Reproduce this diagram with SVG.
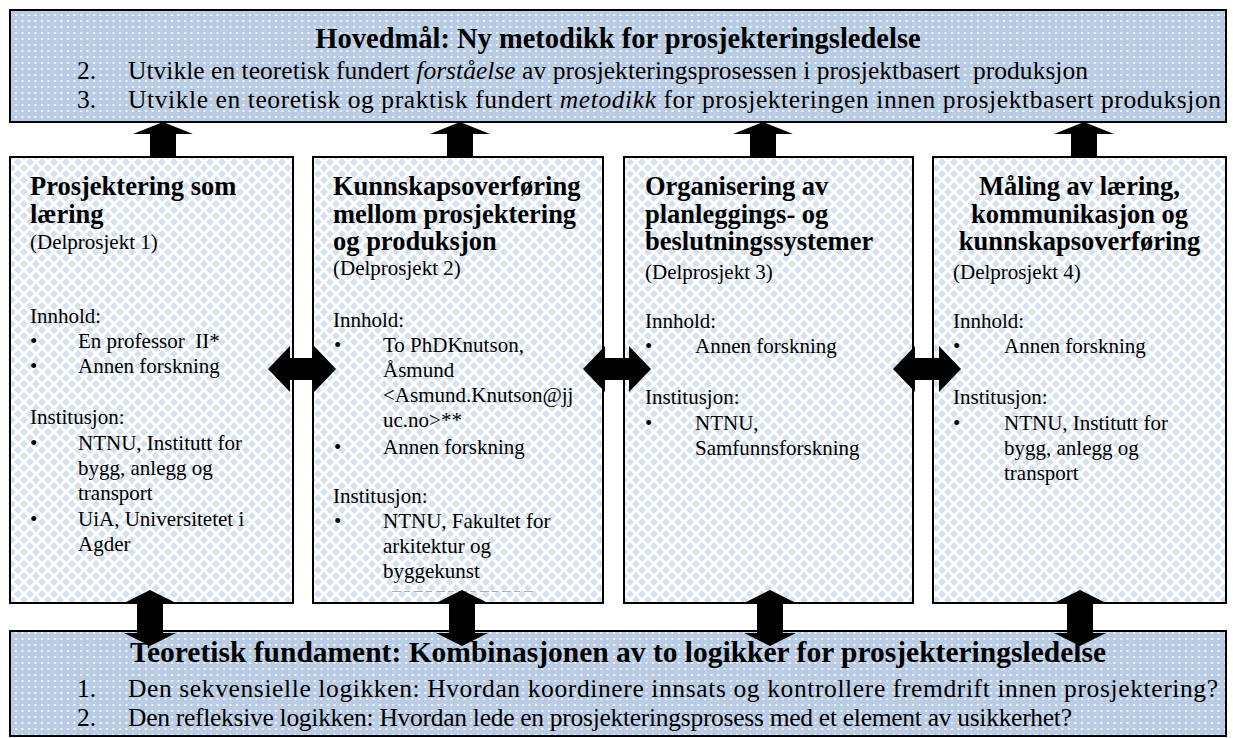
<svg xmlns="http://www.w3.org/2000/svg" width="1233" height="738" viewBox="0 0 1233 738">
  <defs>
    <!-- blue band fill with small white dots -->
    <pattern id="dots" width="6.5" height="6" patternUnits="userSpaceOnUse">
      <rect width="6.5" height="6" fill="#b9cce4"/>
      <rect x="2" y="2" width="2" height="2" fill="#f2f6fb"/>
    </pattern>
    <!-- white fill with pale blue diamond lattice -->
    <pattern id="diamonds" width="12" height="12" patternUnits="userSpaceOnUse">
      <rect width="12" height="12" fill="#ffffff"/>
      <path d="M6 2.1 L9.9 6 L6 9.9 L2.1 6Z M0 -3.9 L3.9 0 L0 3.9 L-3.9 0Z M12 -3.9 L15.9 0 L12 3.9 L8.1 0Z M0 8.1 L3.9 12 L0 15.9 L-3.9 12Z M12 8.1 L15.9 12 L12 15.9 L8.1 12Z" fill="#d5e0ef"/>
    </pattern>
  </defs>
  <style>
    .band { fill: url(#dots); stroke: #000; stroke-width: 2; }
    .card { fill: url(#diamonds); stroke: #000; stroke-width: 2; }
    text { font-family: "Liberation Serif", "Times New Roman", serif; fill: #000; }
    .h1 { font-size: 28.5px; font-weight: bold; }
    .h1b { font-size: 29.5px; font-weight: bold; }
    .li { font-size: 25.5px; }
    .h2 { font-size: 26.5px; font-weight: bold; }
    .t { font-size: 21px; }
    .arrow { fill: #000; }
  </style>

  <!-- main goal band -->
  <g id="hovedmal">
    <rect class="band" x="10" y="10" width="1216" height="112"/>
    <text class="h1" x="618" y="48" text-anchor="middle">Hovedmål: Ny metodikk for prosjekteringsledelse</text>
    <text class="li" x="77" y="79">2.</text>
    <text class="li" x="128" y="79" textLength="960" lengthAdjust="spacing" xml:space="preserve">Utvikle en teoretisk fundert <tspan font-style="italic">forståelse</tspan> av prosjekteringsprosessen i prosjektbasert  produksjon</text>
    <text class="li" x="77" y="108">3.</text>
    <text class="li" x="128" y="108" textLength="1093" lengthAdjust="spacing">Utvikle en teoretisk og praktisk fundert <tspan font-style="italic">metodikk</tspan> for prosjekteringen innen prosjektbasert produksjon</text>
  </g>

  <!-- sub-project 1 -->
  <g id="delprosjekt1">
    <rect class="card" x="10" y="157" width="283" height="446"/>
    <text class="h2" x="30" y="195">Prosjektering som</text>
    <text class="h2" x="30" y="223">læring</text>
    <text class="t" x="30" y="249">(Delprosjekt 1)</text>
    <text class="t" x="30" y="323">Innhold:</text>
    <text class="t" x="30" y="348">•</text>
    <text class="t" x="78" y="348" xml:space="preserve">En professor  II*</text>
    <text class="t" x="30" y="373">•</text>
    <text class="t" x="78" y="373">Annen forskning</text>
    <text class="t" x="30" y="424">Institusjon:</text>
    <text class="t" x="30" y="450">•</text>
    <text class="t" x="78" y="450">NTNU, Institutt for</text>
    <text class="t" x="78" y="475">bygg, anlegg og</text>
    <text class="t" x="78" y="500">transport</text>
    <text class="t" x="30" y="526">•</text>
    <text class="t" x="78" y="526">UiA, Universitetet i</text>
    <text class="t" x="78" y="551">Agder</text>
  </g>

  <!-- sub-project 2 -->
  <g id="delprosjekt2">
    <rect class="card" x="313" y="157" width="290" height="446"/>
    <text class="h2" x="333" y="195">Kunnskapsoverføring</text>
    <text class="h2" x="333" y="223">mellom prosjektering</text>
    <text class="h2" x="333" y="250">og produksjon</text>
    <text class="t" x="333" y="275">(Delprosjekt 2)</text>
    <text class="t" x="333" y="327">Innhold:</text>
    <text class="t" x="334" y="352">•</text>
    <text class="t" x="383" y="352">To PhDKnutson,</text>
    <text class="t" x="383" y="377">Åsmund</text>
    <text class="t" x="383" y="402">&lt;Asmund.Knutson@jj</text>
    <text class="t" x="383" y="427">uc.no&gt;**</text>
    <text class="t" x="334" y="454">•</text>
    <text class="t" x="383" y="454">Annen forskning</text>
    <text class="t" x="333" y="503">Institusjon:</text>
    <text class="t" x="334" y="528">•</text>
    <text class="t" x="383" y="528">NTNU, Fakultet for</text>
    <text class="t" x="383" y="553">arkitektur og</text>
    <text class="t" x="383" y="578">byggekunst</text>
    <path d="M392 591.5 H533" stroke="#b0b0b0" stroke-width="1.2" stroke-dasharray="9 3 6 4"/>
  </g>

  <!-- sub-project 3 -->
  <g id="delprosjekt3">
    <rect class="card" x="624" y="157" width="289" height="446"/>
    <text class="h2" x="645" y="195">Organisering av</text>
    <text class="h2" x="645" y="223">planleggings- og</text>
    <text class="h2" x="645" y="250">beslutningssystemer</text>
    <text class="t" x="645" y="279">(Delprosjekt 3)</text>
    <text class="t" x="645" y="328">Innhold:</text>
    <text class="t" x="645" y="353">•</text>
    <text class="t" x="695" y="353">Annen forskning</text>
    <text class="t" x="645" y="404">Institusjon:</text>
    <text class="t" x="645" y="430">•</text>
    <text class="t" x="695" y="430">NTNU,</text>
    <text class="t" x="695" y="455">Samfunnsforskning</text>
  </g>

  <!-- sub-project 4 -->
  <g id="delprosjekt4">
    <rect class="card" x="933" y="157" width="293" height="446"/>
    <text class="h2" x="1079.5" y="195" text-anchor="middle">Måling av læring,</text>
    <text class="h2" x="1079.5" y="223" text-anchor="middle">kommunikasjon og</text>
    <text class="h2" x="1079.5" y="250" text-anchor="middle">kunnskapsoverføring</text>
    <text class="t" x="953" y="279">(Delprosjekt 4)</text>
    <text class="t" x="953" y="328">Innhold:</text>
    <text class="t" x="953" y="353">•</text>
    <text class="t" x="1004" y="353">Annen forskning</text>
    <text class="t" x="953" y="404">Institusjon:</text>
    <text class="t" x="953" y="430">•</text>
    <text class="t" x="1004" y="430">NTNU, Institutt for</text>
    <text class="t" x="1004" y="455">bygg, anlegg og</text>
    <text class="t" x="1004" y="480">transport</text>
  </g>

  <!-- theoretical foundation band -->
  <g id="fundament">
    <rect class="band" x="10" y="631" width="1216" height="105"/>
    <text class="h1b" x="618" y="662" text-anchor="middle">Teoretisk fundament: Kombinasjonen av to logikker for prosjekteringsledelse</text>
    <text class="li" x="77" y="697">1.</text>
    <text class="li" x="128" y="697" textLength="1090" lengthAdjust="spacing">Den sekvensielle logikken: Hvordan koordinere innsats og kontrollere fremdrift innen prosjektering?</text>
    <text class="li" x="77" y="726">2.</text>
    <text class="li" x="128" y="726" textLength="944" lengthAdjust="spacing">Den refleksive logikken: Hvordan lede en prosjekteringsprosess med et element av usikkerhet?</text>
  </g>

  <!-- connectors: block arrows -->
  <g id="connectors">
    <!-- up arrows into the main goal -->
    <path class="arrow" d="M163 122 L193 134 L176 134 L176 157 L150 157 L150 134 L133 134Z"/>
    <path class="arrow" d="M460 122 L490 134 L473 134 L473 157 L447 157 L447 134 L430 134Z"/>
    <path class="arrow" d="M763 122 L793 134 L776 134 L776 157 L750 157 L750 134 L733 134Z"/>
    <path class="arrow" d="M1084 122 L1114 134 L1097 134 L1097 157 L1071 157 L1071 134 L1054 134Z"/>
    <!-- two-way arrows between sub-projects -->
    <path class="arrow" d="M268 369 L290 346 L290 358 L314 358 L314 346 L336 369 L314 392 L314 380 L290 380 L290 392Z"/>
    <path class="arrow" d="M583 369 L605 346 L605 358 L629 358 L629 346 L651 369 L629 392 L629 380 L605 380 L605 392Z"/>
    <path class="arrow" d="M893 369 L915 346 L915 358 L939 358 L939 346 L961 369 L939 392 L939 380 L915 380 L915 392Z"/>
    <!-- two-way arrows to the theoretical foundation -->
    <path class="arrow" d="M150 590 L176 603 L163 603 L163 633 L176 633 L150 646 L124 633 L137 633 L137 603 L124 603Z"/>
    <path class="arrow" d="M462 590 L488 603 L475 603 L475 633 L488 633 L462 646 L436 633 L449 633 L449 603 L436 603Z"/>
    <path class="arrow" d="M770 590 L796 603 L783 603 L783 633 L796 633 L770 646 L744 633 L757 633 L757 603 L744 603Z"/>
    <path class="arrow" d="M1080 590 L1106 603 L1093 603 L1093 633 L1106 633 L1080 646 L1054 633 L1067 633 L1067 603 L1054 603Z"/>
  </g>
</svg>
